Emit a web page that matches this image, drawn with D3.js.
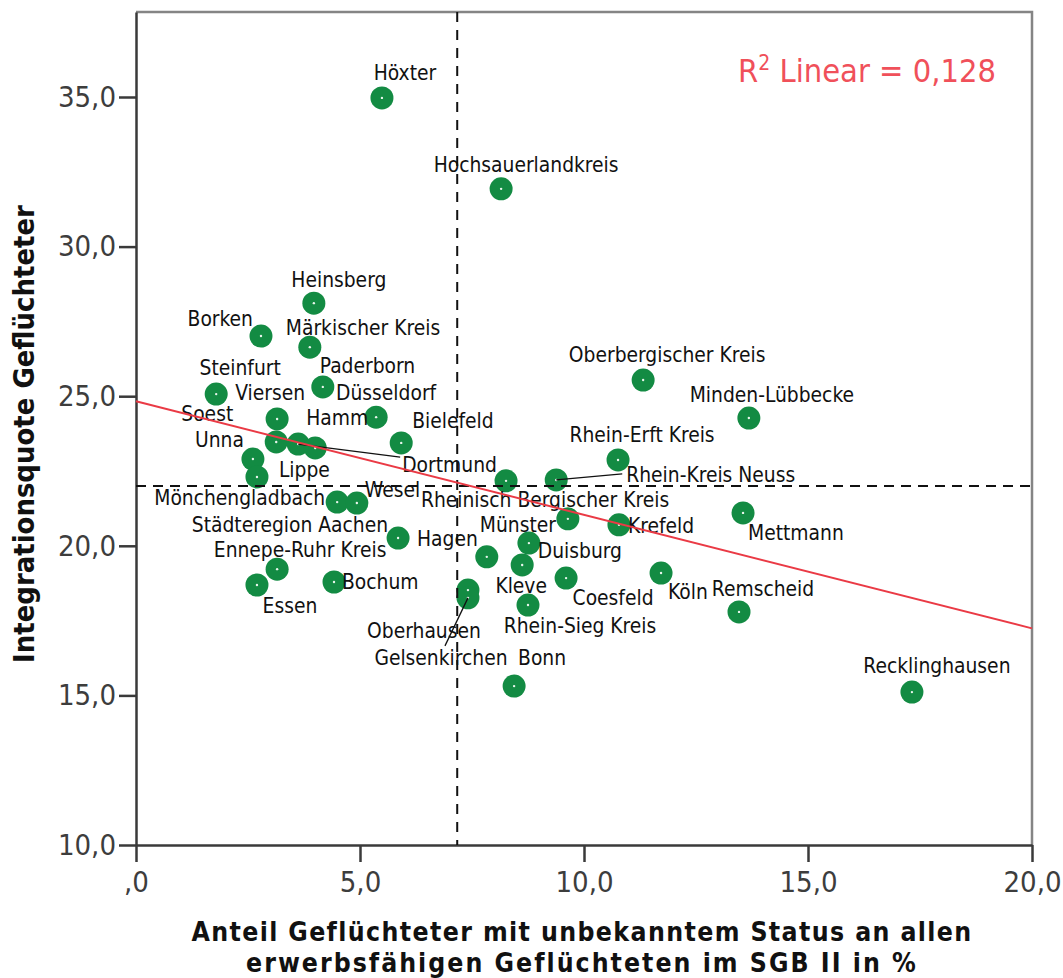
<!DOCTYPE html>
<html>
<head>
<meta charset="utf-8">
<script src="https://cdn.jsdelivr.net/npm/d3@7"></script>
<style>
  body { margin: 0; background: #fff; }
  svg text { font-family: "DejaVu Sans Condensed", "DejaVu Sans", sans-serif; }
</style>
</head>
<body>
<div id="plot"></div>
<script>
// Kreise / Städte in NRW
const regions = [
  "Höxter", "Hochsauerlandkreis", "Heinsberg", "Borken", "Märkischer Kreis",
  "Steinfurt", "Paderborn", "Düsseldorf", "Bielefeld", "Viersen",
  "Soest", "Dortmund", "Hamm", "Unna", "Lippe",
  "Mönchengladbach", "Wesel", "Städteregion Aachen", "Hagen", "Ennepe-Ruhr Kreis",
  "Essen", "Bochum", "Oberhausen", "Gelsenkirchen", "Rheinisch Bergischer Kreis",
  "Rhein-Kreis Neuss", "Duisburg", "Münster", "Kleve", "Coesfeld",
  "Rhein-Sieg Kreis", "Bonn", "Köln", "Remscheid", "Krefeld",
  "Mettmann", "Rhein-Erft Kreis", "Oberbergischer Kreis", "Minden-Lübbecke", "Recklinghausen"
];
// Anteil Geflüchteter mit unbekanntem Status (%)
const unknownShare = [
  5.49, 8.15, 3.97, 2.79, 3.88,
  1.79, 4.17, 5.36, 5.92, 3.15,
  3.13, 3.62, 4.00, 2.61, 2.70,
  4.49, 4.93, 5.85, 7.83, 3.15,
  2.70, 4.42, 7.41, 7.41, 8.26,
  9.38, 9.64, 8.77, 8.62, 9.60,
  8.75, 8.44, 11.72, 13.46, 10.78,
  13.55, 10.76, 11.32, 13.68, 17.32
];
// Integrationsquote Geflüchteter
const integrationRate = [
  34.97, 31.93, 28.11, 27.01, 26.64,
  25.07, 25.31, 24.30, 23.44, 24.24,
  23.47, 23.40, 23.27, 22.90, 22.30,
  21.46, 21.43, 20.26, 19.63, 19.22,
  18.69, 18.79, 18.52, 18.26, 22.17,
  22.20, 20.90, 20.09, 19.36, 18.92,
  18.02, 15.31, 19.09, 17.79, 20.70,
  21.10, 22.87, 25.54, 24.27, 15.11
];

const xTickValues = [0, 5, 10, 15, 20];
const xTickLabels = [",0", "5,0", "10,0", "15,0", "20,0"];
const yTickValues = [10, 15, 20, 25, 30, 35];
const yTickLabels = ["10,0", "15,0", "20,0", "25,0", "30,0", "35,0"];

// Referenzlinien (Mittelwerte) und lineare Anpassung
const meanX = 7.17;
const meanY = 22.0;
const fitLine = [[0, 24.83], [20, 17.24]];
const r2Text = "0,128";

// label placement: [anchor, dx, dy] relative to point (pixels)
const labelPos = {
  "Höxter": ["middle", 23, -18], "Hochsauerlandkreis": ["middle", 25, -17],
  "Heinsberg": ["middle", 25, -16], "Borken": ["end", -8, -10],
  "Märkischer Kreis": ["start", -24, -12], "Steinfurt": ["middle", 24, -19],
  "Paderborn": ["start", -3, -14], "Düsseldorf": ["middle", 10, -17],
  "Bielefeld": ["start", 11, -15], "Viersen": ["middle", -7, -19],
  "Soest": ["end", -43, -21], "Dortmund": ["start", 104, 28],
  "Hamm": ["middle", 22, -23], "Unna": ["end", -9, -12],
  "Lippe": ["start", 22, 0], "Mönchengladbach": ["end", -12, 3],
  "Wesel": ["start", 8, -6], "Städteregion Aachen": ["end", -10, -6],
  "Hagen": ["end", -9, -11], "Ennepe-Ruhr Kreis": ["middle", 23, -12],
  "Essen": ["middle", 33, 28], "Bochum": ["start", 8, 7],
  "Oberhausen": ["middle", -44, 48], "Gelsenkirchen": ["middle", -27, 67],
  "Rheinisch Bergischer Kreis": ["middle", 39, 26], "Rhein-Kreis Neuss": ["start", 70, 2],
  "Duisburg": ["middle", 12, 39], "Münster": ["middle", -11, -11],
  "Kleve": ["middle", -1, 28], "Coesfeld": ["middle", 47, 27],
  "Rhein-Sieg Kreis": ["middle", 52, 28], "Bonn": ["middle", 28, -21],
  "Köln": ["start", 7, 26], "Remscheid": ["middle", 24, -16],
  "Krefeld": ["start", 9, 8], "Mettmann": ["start", 5, 27],
  "Rhein-Erft Kreis": ["middle", 24, -18], "Oberbergischer Kreis": ["middle", 24, -18],
  "Minden-Lübbecke": ["middle", 23, -16], "Recklinghausen": ["middle", 25, -19]
};
// leader lines from point to displaced label
const leaders = {
  "Dortmund": [102, 13],
  "Rhein-Kreis Neuss": [66, -6],
  "Gelsenkirchen": [-23, 48]
};

const data = regions.map((name, i) => ({ name, x: unknownShare[i], y: integrationRate[i] }));

const W = 1063, H = 978;
const plotLeft = 136, plotRight = 1032, plotTop = 12, plotBottom = 845;

const svg = d3.select("#plot").append("svg")
  .attr("width", W)
  .attr("height", H);

const xScale = d3.scaleLinear().domain([0, 20]).range([plotLeft, plotRight]);
const yScale = d3.scaleLinear().domain([10, 35]).range([plotBottom, 97]);
// extend the y domain up to the top of the frame
const yTop = yScale.invert(plotTop);
yScale.domain([10, yTop]).range([plotBottom, plotTop]);

// frame (top and right)
svg.append("path")
  .attr("d", `M${plotLeft},${plotTop}H${plotRight}V${plotBottom}`)
  .attr("fill", "none")
  .attr("stroke", "#858585")
  .attr("stroke-width", 2.5);

// axes
const yAxis = svg.append("g")
  .attr("transform", `translate(${plotLeft},0)`)
  .call(d3.axisLeft(yScale)
    .tickValues(yTickValues)
    .tickFormat((d, i) => yTickLabels[i])
    .tickSize(17).tickSizeOuter(0).tickPadding(3));

const xAxis = svg.append("g")
  .attr("transform", `translate(0,${plotBottom})`)
  .call(d3.axisBottom(xScale)
    .tickValues(xTickValues)
    .tickFormat((d, i) => xTickLabels[i])
    .tickSize(17).tickSizeOuter(0).tickPadding(9));

[xAxis, yAxis].forEach(ax => {
  ax.select(".domain").attr("stroke", "#3a3a3a").attr("stroke-width", 2.5);
  ax.selectAll(".tick line").attr("stroke", "#3a3a3a").attr("stroke-width", 2.5);
  ax.selectAll(".tick text")
    .attr("fill", "#3d3d3d")
    .style("font-size", "29px")
    .style("font-family", "'DejaVu Sans Condensed', 'DejaVu Sans', sans-serif");
});

// points
const pts = svg.append("g");
pts.selectAll("circle.pt")
  .data(data)
  .join("circle")
  .attr("class", "pt")
  .attr("cx", d => xScale(d.x))
  .attr("cy", d => yScale(d.y))
  .attr("r", 11.5)
  .attr("fill", "#138b43");
pts.selectAll("circle.dot")
  .data(data)
  .join("circle")
  .attr("class", "dot")
  .attr("cx", d => xScale(d.x))
  .attr("cy", d => yScale(d.y))
  .attr("r", 1.2)
  .attr("fill", "#e8f5ec");

// leader lines
svg.append("g").selectAll("line")
  .data(data.filter(d => leaders[d.name]))
  .join("line")
  .attr("x1", d => xScale(d.x))
  .attr("y1", d => yScale(d.y))
  .attr("x2", d => xScale(d.x) + leaders[d.name][0])
  .attr("y2", d => yScale(d.y) + leaders[d.name][1])
  .attr("stroke", "#111")
  .attr("stroke-width", 1.3);

// labels
svg.append("g").selectAll("text")
  .data(data)
  .join("text")
  .attr("x", d => xScale(d.x) + labelPos[d.name][1])
  .attr("y", d => yScale(d.y) + labelPos[d.name][2])
  .attr("text-anchor", d => labelPos[d.name][0])
  .attr("fill", "#111")
  .style("font-size", "20.8px")
  .text(d => d.name);

// reference lines
svg.append("line")
  .attr("x1", xScale(meanX)).attr("x2", xScale(meanX))
  .attr("y1", plotTop).attr("y2", plotBottom)
  .attr("stroke", "#111").attr("stroke-width", 2)
  .attr("stroke-dasharray", "10,8");
svg.append("line")
  .attr("x1", plotLeft).attr("x2", plotRight)
  .attr("y1", yScale(meanY)).attr("y2", yScale(meanY))
  .attr("stroke", "#111").attr("stroke-width", 2)
  .attr("stroke-dasharray", "10,7");

// linear fit
svg.append("path")
  .datum(fitLine)
  .attr("d", d3.line().x(d => xScale(d[0])).y(d => yScale(d[1])))
  .attr("stroke", "#ea3a45")
  .attr("stroke-width", 2)
  .attr("fill", "none");

// scale font so text spans a given width
function fitWidth(sel, width) {
  const fs = parseFloat(sel.style("font-size"));
  const w = sel.node().getComputedTextLength();
  sel.style("font-size", (fs * width / w) + "px");
  return fs * width / w;
}
// widen text to a given width through letter spacing
function spreadTo(sel, width) {
  const txt = sel.text();
  const w = sel.node().getComputedTextLength();
  sel.style("letter-spacing", Math.max(0, (width - w) / (txt.length - 1)) + "px");
}

// R² label
const r2 = svg.append("text")
  .attr("x", 738).attr("y", 82)
  .attr("fill", "#f0505a")
  .style("font-size", "30px");
r2.append("tspan").text("R");
r2.append("tspan").attr("dy", -12).style("font-size", "0.65em").text("2");
r2.append("tspan").attr("dy", 12).text(" Linear = " + r2Text);
fitWidth(r2, 258);

// axis titles
const xt1 = svg.append("text")
  .attr("x", 582).attr("y", 941)
  .attr("text-anchor", "middle")
  .attr("font-weight", "bold")
  .attr("fill", "#111")
  .style("font-size", "26.4px")
  .text("Anteil Geflüchteter mit unbekanntem Status an allen");
spreadTo(xt1, 779);
const xt2 = svg.append("text")
  .attr("x", 582).attr("y", 972)
  .attr("text-anchor", "middle")
  .attr("font-weight", "bold")
  .attr("fill", "#111")
  .style("font-size", "26.4px")
  .text("erwerbsfähigen Geflüchteten im SGB II in %");
spreadTo(xt2, 669);

const yt = svg.append("text")
  .attr("transform", "translate(34,434) rotate(-90)")
  .attr("text-anchor", "middle")
  .attr("font-weight", "bold")
  .attr("fill", "#111")
  .style("font-size", "28px")
  .text("Integrationsquote Geflüchteter");
fitWidth(yt, 458);
</script>
</body>
</html>
